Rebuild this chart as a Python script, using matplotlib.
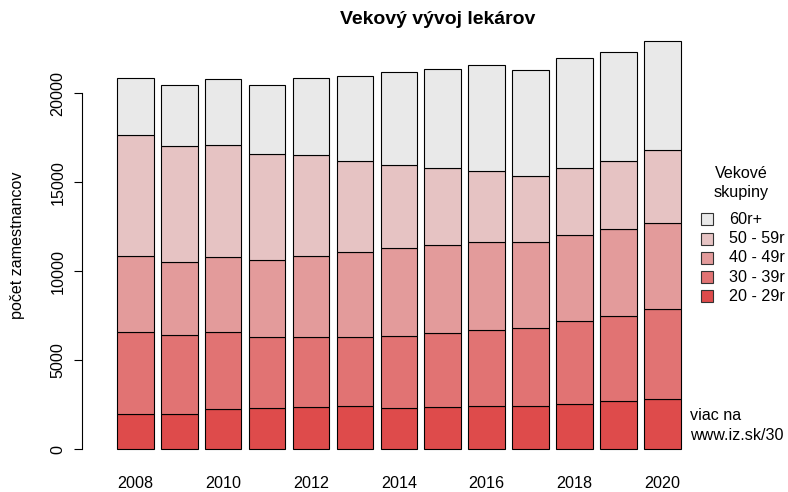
import matplotlib
matplotlib.use("Agg")
import matplotlib.pyplot as plt
from matplotlib.patches import Rectangle
import numpy as np

plt.rcParams['font.family'] = ['Liberation Sans', 'DejaVu Sans']

years = [2008, 2009, 2010, 2011, 2012, 2013, 2014, 2015, 2016, 2017, 2018, 2019, 2020]
g20_29 = [1980, 1980, 2275, 2315, 2370, 2425, 2350, 2370, 2445, 2460, 2555, 2725, 2835]
g30_39 = [4620, 4470, 4345, 4005, 3935, 3910, 4045, 4175, 4285, 4365, 4645, 4790, 5055]
g40_49 = [4270, 4085, 4195, 4325, 4550, 4775, 4910, 4945, 4945, 4830, 4865, 4855, 4815]
g50_59 = [6800, 6535, 6275, 5955, 5675, 5080, 4680, 4310, 3990, 3710, 3765, 3855, 4120]
g60 = [3220, 3395, 3710, 3875, 4345, 4775, 5240, 5580, 5920, 5970, 6150, 6090, 6110]

groups = [g20_29, g30_39, g40_49, g50_59, g60]
group_names = ['20 - 29r', '30 - 39r', '40 - 49r', '50 - 59r', '60r+']
colors = ['#DE4B4B', '#E17373', '#E39B9B', '#E6C3C3', '#E9E9E9']

FS = 11.6
W, H = 788, 492

fig = plt.figure(figsize=(7.88, 4.92), dpi=100)
# axes placed in pixel terms: left 82, right 700, top 25, bottom 466
ax = fig.add_axes([82 / W, 26 / H, (700 - 82) / W, (466 - 25) / H])

x = 0.7 + 1.2 * np.arange(len(years))
bottom = np.zeros(len(years))
for vals, c in zip(groups, colors):
    ax.bar(x, vals, width=1.0, bottom=bottom, color=c, edgecolor='black', linewidth=0.8)
    bottom += np.array(vals)

ax.set_xlim(-0.757, 16.13)
ax.set_ylim(-927, 23848)

for s in ['top', 'right', 'bottom']:
    ax.spines[s].set_visible(False)
ax.spines['left'].set_bounds(0, 20000)
ax.spines['left'].set_linewidth(0.8)
ax.set_yticks([0, 5000, 10000, 15000, 20000])
ax.set_yticklabels(['0', '5000', '10000', '15000', '20000'], rotation=90, va='center', fontsize=FS)
ax.tick_params(axis='y', length=6, width=0.8, pad=6)

lab_idx = [i for i, y in enumerate(years) if y % 2 == 0]
ax.set_xticks(x[lab_idx])
ax.set_xticklabels([str(years[i]) for i in lab_idx], fontsize=FS)
ax.tick_params(axis='x', length=0, pad=7)

ax.set_ylabel('počet zamestnancov', fontsize=FS, labelpad=18)

fig.text(438 / W, 1 - 20 / H, 'Vekový vývoj lekárov', ha='center', va='center',
         fontsize=14, fontweight='bold')

# legend drawn by hand, placed in pixel terms
fig.text(741 / W, 1 - 174 / H, 'Vekové', ha='center', va='center', fontsize=FS)
fig.text(741 / W, 1 - 193 / H, 'skupiny', ha='center', va='center', fontsize=FS)
for i, (name, c) in enumerate(zip(group_names[::-1], colors[::-1])):
    yc = 219.5 + 19.2 * i
    fig.patches.append(Rectangle((701 / W, 1 - (yc + 6) / H), 12 / W, 12 / H,
                                 transform=fig.transFigure, facecolor=c,
                                 edgecolor='#333333', linewidth=0.8))
    fig.text(729 / W, 1 - yc / H, name, ha='left', va='center', fontsize=FS)

fig.text(690 / W, 1 - 415.5 / H, 'viac na', ha='left', va='center', fontsize=FS)
fig.text(690 / W, 1 - 435.5 / H, 'www.iz.sk/30', ha='left', va='center', fontsize=FS)

fig.savefig('out.png', dpi=100)
